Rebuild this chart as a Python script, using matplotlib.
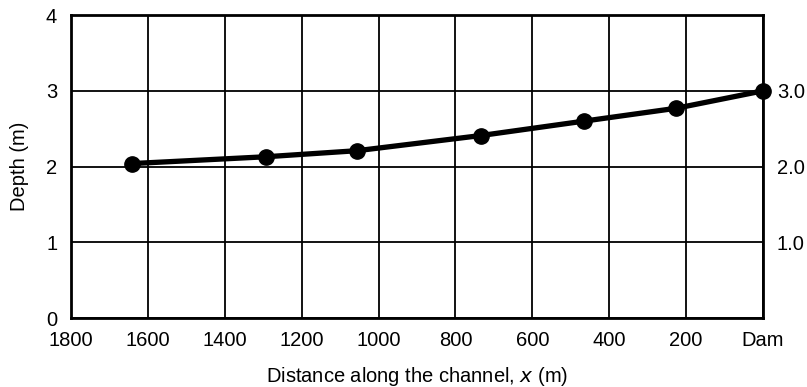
import matplotlib.pyplot as plt

plt.rcParams['font.family'] = ['Liberation Sans', 'DejaVu Sans']

# stations along the channel (m upstream of dam) and computed depth (m)
x_dist = [1641, 1293, 1056, 734, 466, 226, 0]
depth = [2.04, 2.13, 2.21, 2.41, 2.60, 2.77, 3.0]

x_ticks = [1800, 1600, 1400, 1200, 1000, 800, 600, 400, 200, 0]
x_labels = ['1800', '1600', '1400', '1200', '1000', '800', '600', '400', '200', 'Dam']
y_ticks = [0, 1, 2, 3, 4]
y_labels = ['0', '1', '2', '3', '4']
right_ticks = [1, 2, 3]
right_labels = ['1.0', '2.0', '3.0']

fig = plt.figure(figsize=(8.07, 3.87), dpi=100)
ax = fig.add_axes([0.088, 0.178, 0.8575, 0.783])

ax.plot(x_dist, depth, color='black', lw=3.8, marker='o', ms=11, zorder=3, clip_on=False)

ax.set_xlim(1800, 0)
ax.set_ylim(0, 4)
ax.set_xticks(x_ticks)
ax.set_xticklabels(x_labels)
ax.set_yticks(y_ticks)
ax.set_yticklabels(y_labels)
ax.tick_params(length=0, labelsize=14.5)
ax.tick_params(axis='x', pad=9)
ax.tick_params(axis='y', pad=10)
ax.grid(True, color='black', lw=1.3)
for s in ax.spines.values():
    s.set_linewidth(2)

ax2 = ax.twinx()
ax2.set_ylim(0, 4)
ax2.set_yticks(right_ticks)
ax2.set_yticklabels(right_labels)
ax2.tick_params(length=0, labelsize=14.5, pad=10)
for s in ax2.spines.values():
    s.set_visible(False)

ax.set_xlabel('Distance along the channel, $\\it{x}$ (m)', fontsize=14.5, labelpad=11)
ax.set_ylabel('Depth (m)', fontsize=14.5, labelpad=12)

fig.savefig('out.png', dpi=100)
